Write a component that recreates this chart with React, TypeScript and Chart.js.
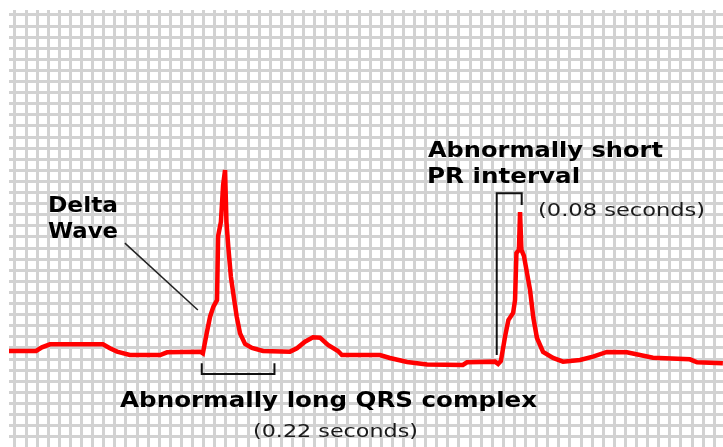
import { useEffect, useRef } from "react";
import { Chart, registerables } from "chart.js";

Chart.register(...registerables);

// ECG trace: time in seconds (1 small box = 0.04 s), voltage in mV (1 small box = 0.1 mV)
const timeSec = [
  -0.022, 0.076, 0.097, 0.126, 0.317, 0.342, 0.368, 0.414, 0.523, 0.548,
  0.667, 0.677, 0.691, 0.703, 0.715, 0.728, 0.732, 0.742, 0.75, 0.757,
  0.762, 0.769, 0.778, 0.79, 0.799, 0.811, 0.829, 0.854, 0.894, 0.991,
  1.016, 1.045, 1.074, 1.099, 1.128, 1.164, 1.178, 1.315, 1.351, 1.413,
  1.485, 1.614, 1.629, 1.73, 1.741, 1.751, 1.766, 1.778, 1.795, 1.802,
  1.807, 1.816, 1.82, 1.825, 1.834, 1.845, 1.856, 1.868, 1.881, 1.903,
  1.939, 1.975, 2.036, 2.083, 2.133, 2.205, 2.252, 2.299, 2.432, 2.458,
  2.551,
];
const voltageMv = [
  0.073, 0.073, 0.106, 0.133, 0.133, 0.097, 0.067, 0.037, 0.037, 0.061,
  0.067, 0.052, 0.235, 0.382, 0.473, 0.532, 1.109, 1.235, 1.568, 1.704,
  1.235, 1.001, 0.742, 0.532, 0.382, 0.232, 0.136, 0.1, 0.073, 0.067,
  0.097, 0.157, 0.196, 0.193, 0.127, 0.073, 0.037, 0.037, 0.01, -0.026,
  -0.049, -0.053, -0.029, -0.023, -0.044, -0.017, 0.202, 0.352, 0.415, 0.532,
  0.956, 0.983, 1.325, 0.983, 0.929, 0.776, 0.623, 0.37, 0.19, 0.064,
  0.01, -0.023, -0.008, 0.022, 0.064, 0.061, 0.037, 0.013, -0.002, -0.029,
  -0.038,
];

// Visible window of the strip
const timeRange = [-0.0216, 2.5514];
const voltageRange = [-0.792, 3.145];
const smallBoxSec = 0.04;
const smallBoxMv = 0.1;

// Annotation texts
const deltaLabel = ["Delta", "Wave"];
const qrsLabel = "Abnormally long QRS complex";
const qrsDuration = "(0.22 seconds)";
const prLabel = ["Abnormally short", "PR interval"];
const prDuration = "(0.08 seconds)";

// Annotation anchors in data units (seconds, mV)
const deltaPointer = [
  [0.396, 1.045],
  [0.659, 0.442],
];
const qrsBracket = [0.673, 0.935, -0.038, -0.134]; // x0, x1, yTop, yBottom
const prBracket = [1.736, 1.826, 1.494, 0.037, 1.388]; // x0, x1, yTop, yLeftBottom, yRightBottom

function gridTicks(lo: number, hi: number, step: number) {
  const out: { value: number }[] = [];
  const k0 = Math.ceil(lo / step - 1e-6);
  const k1 = Math.floor(hi / step + 1e-6);
  for (let k = k0; k <= k1; k++) out.push({ value: +(k * step).toFixed(4) });
  return out;
}

function fitText(
  ctx: CanvasRenderingContext2D,
  text: string,
  x: number,
  y: number,
  width: number,
  align: "left" | "center"
) {
  const w = ctx.measureText(text).width;
  ctx.save();
  ctx.translate(x, y);
  ctx.scale(width / w, 1);
  ctx.textAlign = "left";
  ctx.fillText(text, align === "center" ? -w / 2 : 0, 0);
  ctx.restore();
}

const annotationPlugin = {
  id: "ecgAnnotations",
  afterDatasetsDraw(chart: any) {
    const { ctx } = chart;
    const xs = chart.scales.x;
    const ys = chart.scales.y;
    const X = (v: number) => xs.getPixelForValue(v);
    const Y = (v: number) => ys.getPixelForValue(v);
    ctx.save();

    // Delta wave pointer
    ctx.strokeStyle = "#222";
    ctx.lineWidth = 1.5;
    ctx.beginPath();
    ctx.moveTo(X(deltaPointer[0][0]), Y(deltaPointer[0][1]));
    ctx.lineTo(X(deltaPointer[1][0]), Y(deltaPointer[1][1]));
    ctx.stroke();

    // Brackets
    ctx.strokeStyle = "#111";
    ctx.lineWidth = 2;
    ctx.beginPath();
    ctx.moveTo(X(qrsBracket[0]), Y(qrsBracket[2]));
    ctx.lineTo(X(qrsBracket[0]), Y(qrsBracket[3]));
    ctx.lineTo(X(qrsBracket[1]), Y(qrsBracket[3]));
    ctx.lineTo(X(qrsBracket[1]), Y(qrsBracket[2]));
    ctx.stroke();

    ctx.beginPath();
    ctx.moveTo(X(prBracket[0]), Y(prBracket[3]));
    ctx.lineTo(X(prBracket[0]), Y(prBracket[2]));
    ctx.lineTo(X(prBracket[1]), Y(prBracket[2]));
    ctx.lineTo(X(prBracket[1]), Y(prBracket[4]));
    ctx.stroke();

    // Bold labels
    ctx.fillStyle = "#000";
    ctx.textBaseline = "alphabetic";
    ctx.font = "bold 21px 'DejaVu Sans'";
    fitText(ctx, deltaLabel[0], X(0.119), Y(1.328), 70, "left");
    fitText(ctx, deltaLabel[1], X(0.119), Y(1.095), 70, "left");
    fitText(ctx, prLabel[0], X(1.488), Y(1.823), 235, "left");
    fitText(ctx, prLabel[1], X(1.485), Y(1.586), 153, "left");
    fitText(ctx, qrsLabel, X(1.13), Y(-0.429), 417, "center");

    // Regular labels
    ctx.fillStyle = "#1a1a1a";
    ctx.font = "18px 'DejaVu Sans'";
    fitText(ctx, prDuration, X(1.885), Y(1.289), 167, "left");
    fitText(ctx, qrsDuration, X(1.155), Y(-0.702), 165, "center");

    ctx.restore();
  },
};

export default function App() {
  const ref = useRef<HTMLCanvasElement | null>(null);

  useEffect(() => {
    if (!ref.current) return;
    const gridColor = "#d2d2d2";
    const chart = new Chart(ref.current, {
      type: "line",
      data: {
        datasets: [
          {
            label: "ECG",
            data: timeSec.map((t, i) => ({ x: t, y: voltageMv[i] })),
            borderColor: "#ff0000",
            borderWidth: 4.5,
            pointRadius: 0,
            tension: 0,
            fill: false,
            borderJoinStyle: "miter",
          },
        ],
      },
      options: {
        responsive: false,
        animation: false,
        devicePixelRatio: 1,
        layout: { padding: { left: 9, top: 10, right: 0, bottom: 0 }, autoPadding: false },
        plugins: {
          legend: { display: false },
          tooltip: { enabled: false },
          title: { display: false },
        },
        events: [],
        scales: {
          x: {
            type: "linear",
            min: timeRange[0],
            max: timeRange[1],
            border: { display: false },
            ticks: { display: false },
            grid: { color: gridColor, lineWidth: 3, drawTicks: false },
            afterBuildTicks: (axis: any) => {
              axis.ticks = gridTicks(timeRange[0], timeRange[1], smallBoxSec);
            },
            afterFit: (s: any) => {
              s.height = 0;
            },
          },
          y: {
            type: "linear",
            min: voltageRange[0],
            max: voltageRange[1],
            border: { display: false },
            ticks: { display: false },
            grid: { color: gridColor, lineWidth: 3, drawTicks: false },
            afterBuildTicks: (axis: any) => {
              axis.ticks = gridTicks(voltageRange[0], voltageRange[1], smallBoxMv);
            },
            afterFit: (s: any) => {
              s.width = 0;
            },
          },
        },
      } as any,
      plugins: [annotationPlugin],
    });
    return () => chart.destroy();
  }, []);

  return (
    <div
      style={{
        position: "fixed",
        left: 0,
        top: 0,
        width: 723,
        height: 447,
        background: "#fff",
      }}
    >
      <canvas ref={ref} width={723} height={447} style={{ display: "block" }} />
    </div>
  );
}
